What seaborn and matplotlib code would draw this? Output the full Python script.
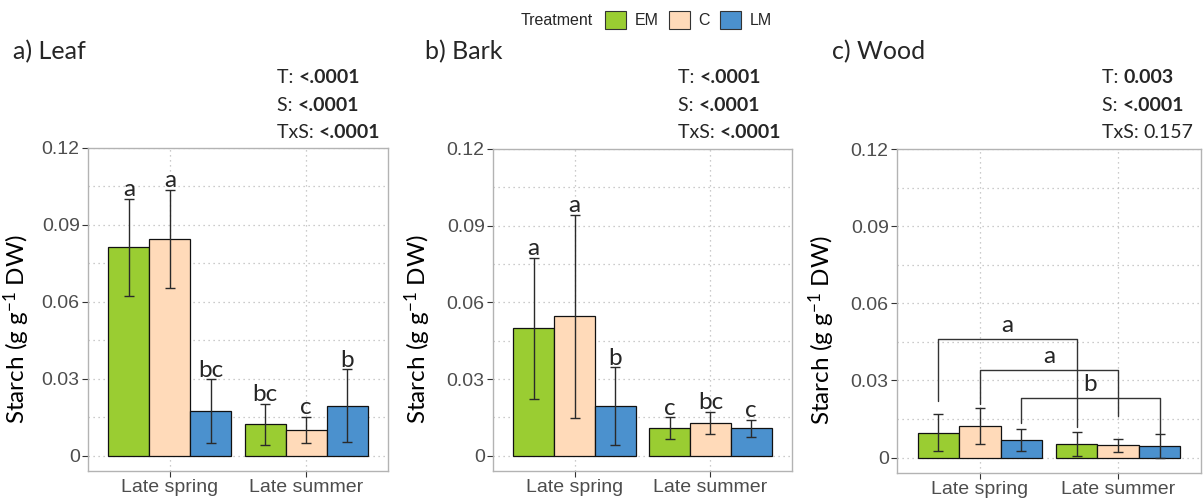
import numpy as np
import pandas as pd
import matplotlib
matplotlib.use('Agg')
import matplotlib.pyplot as plt
import seaborn as sns
from matplotlib.patches import Patch
from matplotlib.ticker import MultipleLocator

seasons = ['Late spring', 'Late summer']
treatments = ['EM', 'C', 'LM']
colors = ['#9ACD32', '#FFDAB9', '#4B91CE']

# values in order: spring EM, C, LM, summer EM, C, LM
leaf_mean = [0.0813, 0.0844, 0.0173, 0.0123, 0.0101, 0.0195]
leaf_se = [0.0190, 0.0192, 0.0124, 0.0080, 0.0050, 0.0141]
bark_mean = [0.0498, 0.0546, 0.0193, 0.0107, 0.0128, 0.0107]
bark_se = [0.0275, 0.0397, 0.0152, 0.0043, 0.0042, 0.0034]
wood_mean = [0.0097, 0.0123, 0.0070, 0.0053, 0.0047, 0.0044]
wood_se = [0.0073, 0.0069, 0.0043, 0.0045, 0.0027, 0.0046]

leaf_letters = ['a', 'a', 'bc', 'bc', 'c', 'b']
bark_letters = ['a', 'a', 'b', 'c', 'bc', 'c']

# wood: letters per treatment, joined across seasons by brackets
wood_letters = ['a', 'a', 'b']
wood_bracket_top = [0.0461, 0.0340, 0.0230]
wood_bracket_spring_end = [0.0221, 0.0210, 0.0135]
wood_bracket_summer_end = [0.0119, 0.0161, 0.0093]

stat_names = ['T: ', 'S: ', 'TxS: ']
leaf_p = ['<.0001', '<.0001', '<.0001']
bark_p = ['<.0001', '<.0001', '<.0001']
wood_p = ['0.003', '<.0001', '0.157']
leaf_bold = [True, True, True]
bark_bold = [True, True, True]
wood_bold = [True, True, False]

titles = ['a) Leaf', 'b) Bark', 'c) Wood']

sns.set_theme(style='white')
plt.rcParams['font.family'] = ['Liberation Sans', 'DejaVu Sans']
plt.rcParams['mathtext.fontset'] = 'custom'
plt.rcParams['mathtext.rm'] = 'Lato'
plt.rcParams['mathtext.default'] = 'regular'

W, H = 1203, 498
fig = plt.figure(figsize=(W / 100, H / 100), dpi=100)

# axes boxes in pixels: left, right, top, bottom
boxes = [(88, 388, 148, 471), (493, 792, 149, 471), (897, 1201, 149, 473)]
ylab_x = [-0.187, -0.202, -0.196]
stat_x = [277, 678, 1102]
title_x = [13, 425, 832]

calib = 'Lato'


def make_df(mean, se):
    rows = []
    for j, s in enumerate(seasons):
        for i, t in enumerate(treatments):
            rows.append({'Season': s, 'Treatment': t,
                         'Starch': mean[j * 3 + i], 'SE': se[j * 3 + i]})
    return pd.DataFrame(rows)


def bar_centers(ax):
    xs = {}
    for i, cont in enumerate(ax.containers):
        for j, bar in enumerate(cont):
            xs[j * 3 + i] = bar.get_x() + bar.get_width() / 2
    return [xs[k] for k in range(6)]


panels = [(leaf_mean, leaf_se, leaf_letters, leaf_p, leaf_bold),
          (bark_mean, bark_se, bark_letters, bark_p, bark_bold),
          (wood_mean, wood_se, None, wood_p, wood_bold)]

axes = []
for k, (mean, se, letters, pvals, bold) in enumerate(panels):
    l, r, t, b = boxes[k]
    ax = fig.add_axes([l / W, 1 - b / H, (r - l) / W, (b - t) / H])
    axes.append(ax)
    df = make_df(mean, se)
    sns.barplot(data=df, x='Season', y='Starch', hue='Treatment',
                order=seasons, hue_order=treatments,
                palette=dict(zip(treatments, colors)), width=0.9,
                saturation=1, errorbar=None, edgecolor='#111111',
                linewidth=0.9, legend=False, ax=ax)
    xs = bar_centers(ax)
    ax.errorbar(xs, mean, yerr=se, fmt='none', ecolor='#2a2a2a',
                elinewidth=1.0, capsize=3.6, capthick=1.0, zorder=5)

    ax.set_xlim(-0.6, 1.6)
    ax.set_ylim(-0.006, 0.12)
    ax.set_yticks([0, 0.03, 0.06, 0.09, 0.12])
    ax.set_yticklabels(['0', '0.03', '0.06', '0.09', '0.12'])
    ax.yaxis.set_minor_locator(MultipleLocator(0.015))
    ax.set_axisbelow(True)
    ax.grid(which='major', axis='both', ls=(0, (1, 3)), color='#BBBBBB', lw=0.9)
    ax.grid(which='minor', axis='y', ls=(0, (1, 3)), color='#BBBBBB', lw=0.9)
    ax.tick_params(which='major', length=4, width=0.8, color='#333333',
                   labelcolor='#4D4D4D', labelsize=14, pad=2, left=True, bottom=True)
    ax.tick_params(which='minor', length=0)
    for sp in ax.spines.values():
        sp.set_color('#B3B3B3')
        sp.set_linewidth(1.0)
    ax.set_xlabel('')
    ax.set_ylabel('Starch (g g$^{-1}$ DW)', family=calib, fontsize=17.5, color='black')
    ax.yaxis.set_label_coords(ylab_x[k], 0.44)

    if letters is not None:
        for idx in range(6):
            ax.annotate(letters[idx], (xs[idx], mean[idx] + se[idx]),
                        xytext=(0, 2), textcoords='offset points',
                        ha='center', va='baseline', family=calib, fontsize=17.5)
    else:
        for i in range(3):
            xa, xb = xs[i], xs[3 + i]
            ytop = wood_bracket_top[i]
            ax.plot([xa, xa, xb, xb],
                    [wood_bracket_spring_end[i], ytop, ytop, wood_bracket_summer_end[i]],
                    color='#333333', lw=1.0, zorder=6)
            ax.annotate(wood_letters[i], ((xa + xb) / 2, ytop),
                        xytext=(0, 5), textcoords='offset points',
                        ha='center', va='baseline', family=calib, fontsize=17.5)

    fig.text(title_x[k] / W, 1 - 59 / H, titles[k], family=calib, fontsize=18,
             ha='left', va='baseline')
    for n, base in enumerate([83, 111, 138]):
        t1 = fig.text(stat_x[k] / W, 1 - base / H, stat_names[n], family=calib,
                      fontsize=14, ha='left', va='baseline')
        ax.annotate(pvals[n], xy=(1, 0), xycoords=t1, ha='left', va='bottom',
                    family=calib, fontsize=14,
                    fontweight='bold' if bold[n] else 'normal',
                    annotation_clip=False)

# legend across the top
handles = [Patch(facecolor=c, edgecolor='#333333', linewidth=0.8) for c in colors]
fig.text(593 / W, 1 - 20 / H, 'Treatment', ha='right', va='center', fontsize=11.5)
fig.legend(handles, treatments, loc='center left',
           bbox_to_anchor=(605 / W, 1 - 20 / H), ncol=3, frameon=False,
           fontsize=11.5, handlelength=1.3, handleheight=1.35,
           handletextpad=0.55, columnspacing=0.65, borderpad=0, borderaxespad=0)

fig.savefig('out.png', dpi=100)
